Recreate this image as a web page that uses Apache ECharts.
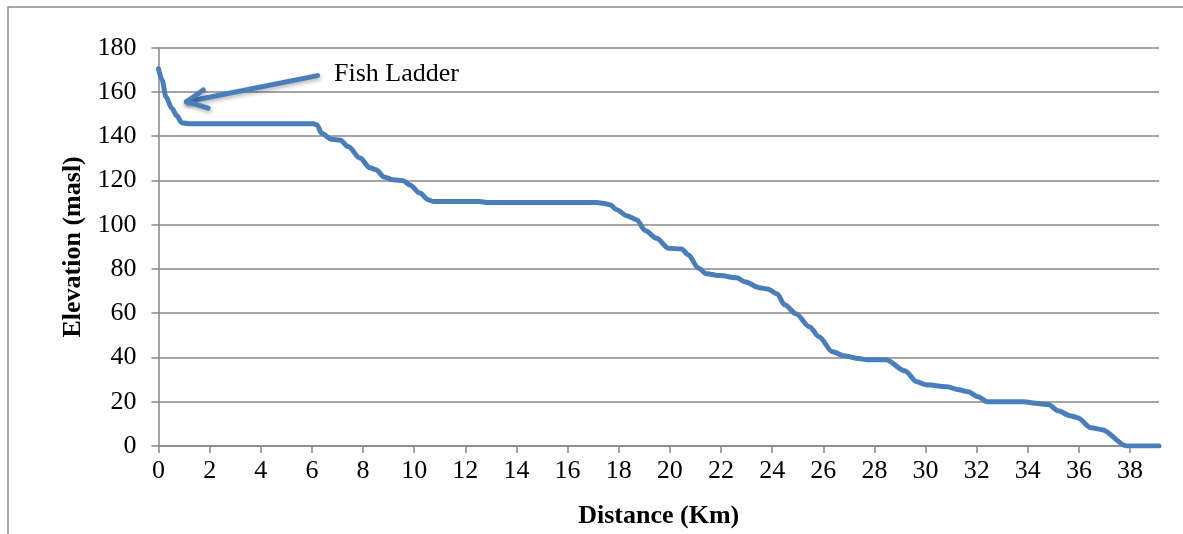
<!DOCTYPE html>
<html>
<head>
<meta charset="utf-8">
<script src="https://cdn.jsdelivr.net/npm/echarts@6/dist/echarts.min.js"></script>
<style>
html,body{margin:0;padding:0;background:#fff;}
#chart{width:1183px;height:534px;}
</style>
</head>
<body>
<div id="chart"></div>
<script>
// Distance along river (km)
const distanceKm = [0.0, 0.14, 0.29, 0.52, 0.72, 0.91, 1.23, 3.5, 6.05, 6.2, 6.38, 6.77, 7.10, 7.42, 7.88, 8.27, 8.51, 8.82, 9.18, 9.57, 9.83, 10.22, 10.55, 10.74, 12.57, 12.84, 15.0, 17.14, 17.42, 17.66, 17.92, 18.31, 18.70, 19.03, 19.48, 19.94, 20.46, 20.72, 21.11, 21.44, 21.96, 22.62, 22.92, 23.52, 23.82, 24.19, 24.49, 24.93, 25.46, 25.83, 26.36, 26.81, 27.39, 27.71, 28.45, 29.19, 29.66, 30.02, 30.84, 31.30, 31.67, 32.05, 32.42, 33.85, 34.29, 34.82, 35.19, 35.65, 35.94, 36.47, 36.90, 37.86, 39.13];
// Elevation (masl)
const elevation = [170.5, 165.4, 157.9, 152.6, 149.2, 146.1, 145.6, 145.6, 145.6, 145.1, 141.3, 138.6, 138.3, 135.3, 130.1, 125.7, 124.8, 121.6, 120.3, 119.9, 118.0, 114.3, 111.3, 110.5, 110.5, 110.0, 110.0, 110.0, 109.6, 109.0, 106.8, 104.1, 102.3, 97.4, 93.9, 89.4, 89.0, 86.4, 80.4, 77.8, 77.0, 76.0, 74.2, 71.5, 71.0, 68.8, 63.8, 59.8, 53.9, 49.4, 42.6, 40.8, 39.5, 39.0, 39.0, 34.0, 29.0, 27.7, 26.8, 25.4, 24.5, 22.3, 20.0, 20.0, 19.3, 18.6, 15.9, 13.7, 12.8, 8.3, 7.4, 0.0, 0.0];

// annotation arrow (in axis units): tail, head and the two barb ends
const annotationText = 'Fish Ladder';
const arrowTail = [6.22, 167.4];
const arrowHead = [1.10, 155.6];
const arrowBarbA = [1.75, 160.9];
const arrowBarbB = [1.94, 152.7];

const xAxisTitle = 'Distance (Km)';
const yAxisTitle = 'Elevation (masl)';

const points = distanceKm.map((d, i) => [d, elevation[i]]);
const blue = '#4A7EBB';
const gray = '#878787';
const serif = '"Liberation Serif", "Times New Roman", serif';

const chart = echarts.init(document.getElementById('chart'), null, {renderer: 'canvas'});
chart.setOption({
  animation: false,
  backgroundColor: '#fff',
  grid: {left: 158.5, right: 24, top: 47.7, bottom: 87.7, containLabel: false},
  xAxis: {
    type: 'value', min: 0, max: 39.13, interval: 2,
    name: xAxisTitle, nameLocation: 'middle', nameGap: 57,
    nameTextStyle: {fontFamily: serif, fontWeight: 'bold', fontSize: 26, color: '#000'},
    axisLine: {show: true, onZero: false, lineStyle: {color: gray, width: 1.5}},
    axisTick: {show: true, inside: false, length: 7, lineStyle: {color: gray, width: 1.5}},
    axisLabel: {fontFamily: serif, fontSize: 26, color: '#000', margin: 12, showMaxLabel: false},
    splitLine: {show: false}
  },
  yAxis: {
    type: 'value', min: 0, max: 180, interval: 20,
    name: yAxisTitle, nameLocation: 'middle', nameGap: 72, nameRotate: 90,
    nameTextStyle: {fontFamily: serif, fontWeight: 'bold', fontSize: 26, color: '#000'},
    axisLine: {show: true, lineStyle: {color: gray, width: 1.5}},
    axisTick: {show: true, inside: false, length: 7, lineStyle: {color: gray, width: 1.5}},
    axisLabel: {fontFamily: serif, fontSize: 26, color: '#000', margin: 22},
    splitLine: {show: true, lineStyle: {color: gray, width: 1.5}}
  },
  series: [{
    type: 'line',
    data: points,
    showSymbol: false,
    smooth: 0.3,
    smoothMonotone: 'x',
    lineStyle: {color: blue, width: 5, cap: 'round', join: 'round'},
    markLine: {
      silent: true,
      symbol: ['none', 'none'],
      label: {show: false},
      lineStyle: {color: blue, width: 5, type: 'solid', cap: 'round', shadowColor: 'rgba(0,0,0,0.3)', shadowBlur: 4, shadowOffsetX: 1, shadowOffsetY: 2},
      data: [
        [{coord: arrowTail}, {coord: arrowHead}],
        [{coord: arrowHead}, {coord: arrowBarbA}],
        [{coord: arrowHead}, {coord: arrowBarbB}]
      ]
    }
  }],
  graphic: [
    {type: 'polyline', shape: {points: [[8, 534], [8, 7], [1183, 7]]}, style: {stroke: '#8c8c8c', lineWidth: 1.5, fill: null}, silent: true},
    {type: 'text', left: 334, top: 61, style: {text: annotationText, font: '26px ' + serif, fill: '#000'}, silent: true}
  ]
});
</script>
</body>
</html>
